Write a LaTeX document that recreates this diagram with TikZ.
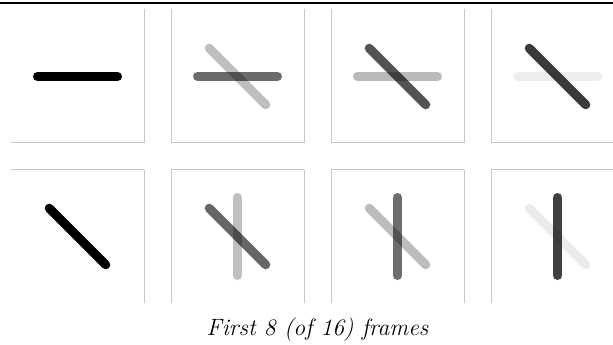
\documentclass[tikz,border=0pt]{standalone}
\begin{document}
\begin{tikzpicture}[x=0.75pt,y=-0.75pt,
  toprule/.style={line width=1.2pt,black},
  fside/.style={draw=black!22,line width=0.75pt},
  barline/.style={line width=6.75pt,line cap=round,black},
  pics/hb/.style={code={\draw[barline,draw opacity=#1] (-40,0) -- (40,0);}},
  pics/db/.style={code={\draw[barline,draw opacity=#1] (-28.3,-28.3) -- (28.3,28.3);}},
  pics/vb/.style={code={\draw[barline,draw opacity=#1] (0,-39) -- (0,39);}},
  captext/.style={font=\fontsize{17.7}{21}\itshape\selectfont,inner sep=0pt,anchor=base}]
\useasboundingbox (0,0) rectangle (613,345);
\draw[toprule] (0,3.2) -- (613,3.2);
% frame sides
\foreach \i in {0,1,2,3} {
  \pgfmathsetmacro\L{11+160*\i}
  \pgfmathsetmacro\R{144+160*\i}
  \draw[fside] (\L,143) -- (\R,143);
  \draw[fside] (\L,170) -- (\R,170);
}
\foreach \i in {1,2,3} {
  \pgfmathsetmacro\L{11+160*\i}
  \draw[fside] (\L,9) -- (\L,143);
  \draw[fside] (\L,170) -- (\L,303);
}
\foreach \i in {0,1,2} {
  \pgfmathsetmacro\R{144+160*\i}
  \draw[fside] (\R,9) -- (\R,143);
  \draw[fside] (\R,170) -- (\R,303);
}
% row 1
\pic at (77.5,76.5) {hb=1};
\pic at (237.5,76.5) {hb=0.58};
\pic at (237.5,76.5) {db=0.25};
\pic at (397.5,76.5) {hb=0.27};
\pic at (397.5,76.5) {db=0.67};
\pic at (557.5,76.5) {hb=0.07};
\pic at (557.5,76.5) {db=0.77};
% row 2
\pic at (77.5,236.5) {db=1};
\pic at (237.5,236.5) {db=0.6};
\pic at (237.5,236.5) {vb=0.25};
\pic at (397.5,236.5) {db=0.26};
\pic at (397.5,236.5) {vb=0.57};
\pic at (557.5,236.5) {db=0.08};
\pic at (557.5,236.5) {vb=0.75};
\node[captext] (cap) at (317.5,335) {First 8 (of 16) frames};
\end{tikzpicture}
\end{document}
